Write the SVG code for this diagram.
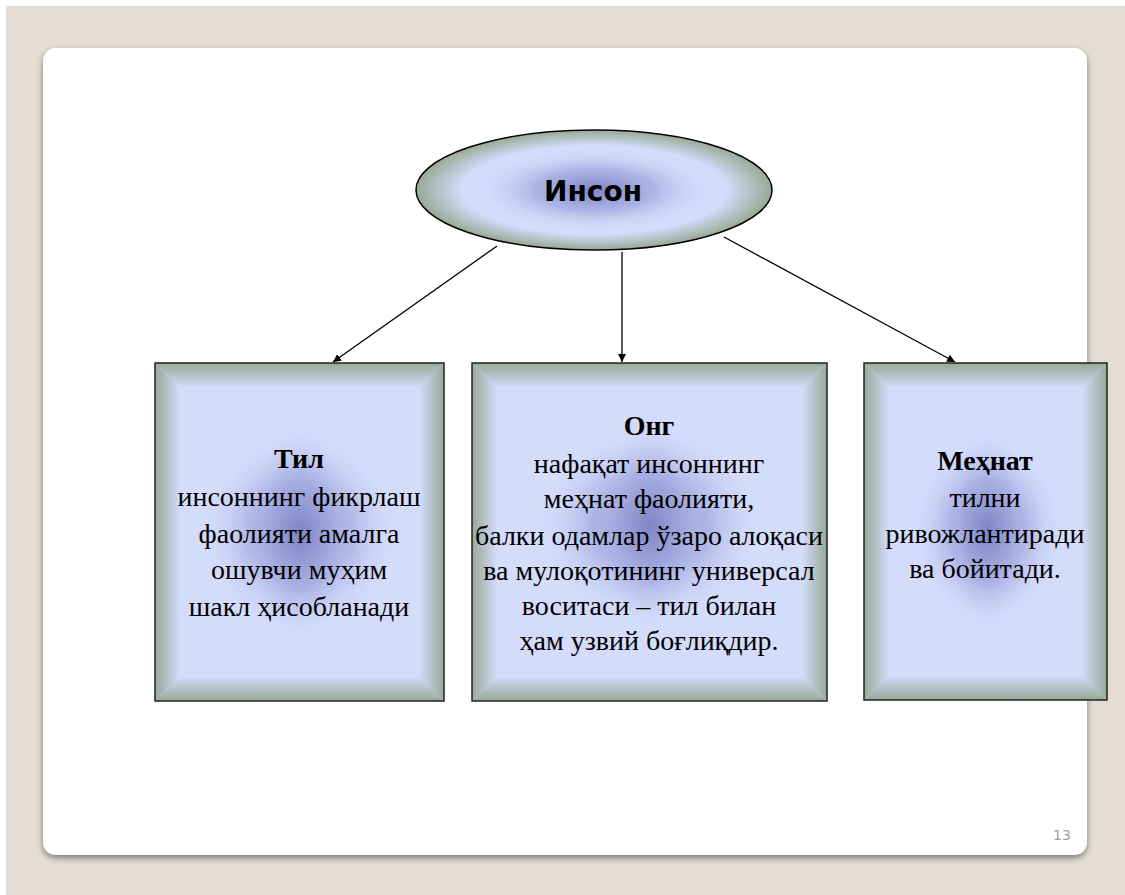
<svg xmlns="http://www.w3.org/2000/svg" width="1125" height="895" viewBox="0 0 1125 895">
<style>
.t{font-family:"Liberation Serif","Times New Roman",serif;font-size:28px;fill:#000;text-anchor:middle}
.b{font-weight:bold}
.frame{stroke:#222;stroke-width:1.5;fill:none}
.conn{stroke:#000;stroke-width:1.3;fill:none;marker-end:url(#arr)}
</style>
<defs>
<marker id="arr" viewBox="0 0 10 10" refX="10" refY="5" markerWidth="8" markerHeight="8" markerUnits="userSpaceOnUse" orient="auto">
<path d="M0,0 L10,5 L0,10 z" fill="#000"/>
</marker>
<linearGradient id="gl" x1="0" y1="0" x2="1" y2="0"><stop offset="0" stop-color="#97a998"/><stop offset="1" stop-color="#d4dcfb"/></linearGradient>
<linearGradient id="gr" x1="1" y1="0" x2="0" y2="0"><stop offset="0" stop-color="#97a998"/><stop offset="1" stop-color="#d4dcfb"/></linearGradient>
<linearGradient id="gt" x1="0" y1="0" x2="0" y2="1"><stop offset="0" stop-color="#97a998"/><stop offset="1" stop-color="#d4dcfb"/></linearGradient>
<linearGradient id="gb" x1="0" y1="1" x2="0" y2="0"><stop offset="0" stop-color="#97a998"/><stop offset="1" stop-color="#d4dcfb"/></linearGradient>
<radialGradient id="core" cx="0.5" cy="0.5" r="0.5"><stop offset="0" stop-color="#7f84c4" stop-opacity="1"/><stop offset="0.5" stop-color="#a0a7de" stop-opacity="0.75"/><stop offset="1" stop-color="#d4dcfb" stop-opacity="0"/></radialGradient>
<radialGradient id="ell" cx="0.5" cy="0.5" r="0.5"><stop offset="0" stop-color="#d4dcfb"/><stop offset="0.74" stop-color="#d4dcfb"/><stop offset="1" stop-color="#97aa96"/></radialGradient>
<filter id="sh" x="-5%" y="-5%" width="110%" height="110%"><feDropShadow dx="0" dy="3" stdDeviation="3" flood-color="#000" flood-opacity="0.45"/></filter>
</defs>
<rect x="0" y="0" width="1125" height="895" fill="#ffffff"/>
<rect x="6" y="6" width="1119" height="889" fill="#e3ddd3"/>
<rect x="43" y="48" width="1044" height="807" rx="13" ry="13" fill="#ffffff" filter="url(#sh)"/>
<text x="1062" y="840" font-family="'DejaVu Sans',Verdana,sans-serif" font-size="14" fill="#a0a0a0" text-anchor="middle">13</text>

<g id="connectors">
<line class="conn" x1="497" y1="246" x2="333" y2="362"/>
<line class="conn" x1="622" y1="252" x2="622" y2="362"/>
<line class="conn" x1="724" y1="237" x2="955" y2="362"/>
</g>

<g id="node-inson">
<ellipse cx="594" cy="190" rx="178" ry="60" fill="url(#ell)"/>
<ellipse cx="594" cy="190" rx="120" ry="42" fill="url(#core)"/>
<ellipse cx="594" cy="190" rx="178" ry="60" fill="none" stroke="#000" stroke-width="1.5"/>
<text x="593" y="201" font-family="'DejaVu Sans',Verdana,sans-serif" font-weight="bold" font-size="28" text-anchor="middle" fill="#000">Инсон</text>
</g>

<g id="node-til">
<rect x="155" y="363" width="289" height="338" fill="#d4dcfb"/>
<polygon points="155,363 180,388 180,676 155,701" fill="url(#gl)"/>
<polygon points="444,363 419,388 419,676 444,701" fill="url(#gr)"/>
<polygon points="155,363 444,363 419,388 180,388" fill="url(#gt)"/>
<polygon points="155,701 444,701 419,676 180,676" fill="url(#gb)"/>
<rect x="200" y="430" width="200" height="205" fill="url(#core)"/>
<rect x="245" y="420" width="110" height="225" fill="url(#core)" opacity="0.6"/>
<rect x="155" y="363" width="289" height="338" class="frame"/>
<text class="t b" x="299" y="468">Тил</text>
<text class="t" x="299" y="506">инсоннинг фикрлаш</text>
<text class="t" x="299" y="543">фаолияти амалга</text>
<text class="t" x="299" y="579">ошувчи муҳим</text>
<text class="t" x="299" y="616">шакл ҳисобланади</text>
</g>

<g id="node-ong">
<rect x="472" y="363" width="355" height="338" fill="#d4dcfb"/>
<polygon points="472,363 497,388 497,676 472,701" fill="url(#gl)"/>
<polygon points="827,363 802,388 802,676 827,701" fill="url(#gr)"/>
<polygon points="472,363 827,363 802,388 497,388" fill="url(#gt)"/>
<polygon points="472,701 827,701 802,676 497,676" fill="url(#gb)"/>
<rect x="535" y="425" width="230" height="200" fill="url(#core)"/>
<rect x="595" y="415" width="110" height="220" fill="url(#core)" opacity="0.6"/>
<rect x="472" y="363" width="355" height="338" class="frame"/>
<text class="t b" x="649" y="435">Онг</text>
<text class="t" x="649" y="473">нафақат инсоннинг</text>
<text class="t" x="649" y="508">меҳнат фаолияти,</text>
<text class="t" x="649" y="545">балки одамлар ўзаро алоқаси</text>
<text class="t" x="649" y="580">ва мулоқотининг универсал</text>
<text class="t" x="649" y="615">воситаси – тил билан</text>
<text class="t" x="649" y="650">ҳам узвий боғлиқдир.</text>
</g>

<g id="node-mehnat">
<rect x="864" y="363" width="243" height="337" fill="#d4dcfb"/>
<polygon points="864,363 889,388 889,675 864,700" fill="url(#gl)"/>
<polygon points="1107,363 1082,388 1082,675 1107,700" fill="url(#gr)"/>
<polygon points="864,363 1107,363 1082,388 889,388" fill="url(#gt)"/>
<polygon points="864,700 1107,700 1082,675 889,675" fill="url(#gb)"/>
<rect x="910" y="435" width="155" height="190" fill="url(#core)"/>
<rect x="940" y="425" width="95" height="210" fill="url(#core)" opacity="0.6"/>
<rect x="864" y="363" width="243" height="337" class="frame"/>
<text class="t b" x="985" y="470">Меҳнат</text>
<text class="t" x="985" y="507">тилни</text>
<text class="t" x="985" y="543">ривожлантиради</text>
<text class="t" x="985" y="578">ва бойитади.</text>
</g>
</svg>
